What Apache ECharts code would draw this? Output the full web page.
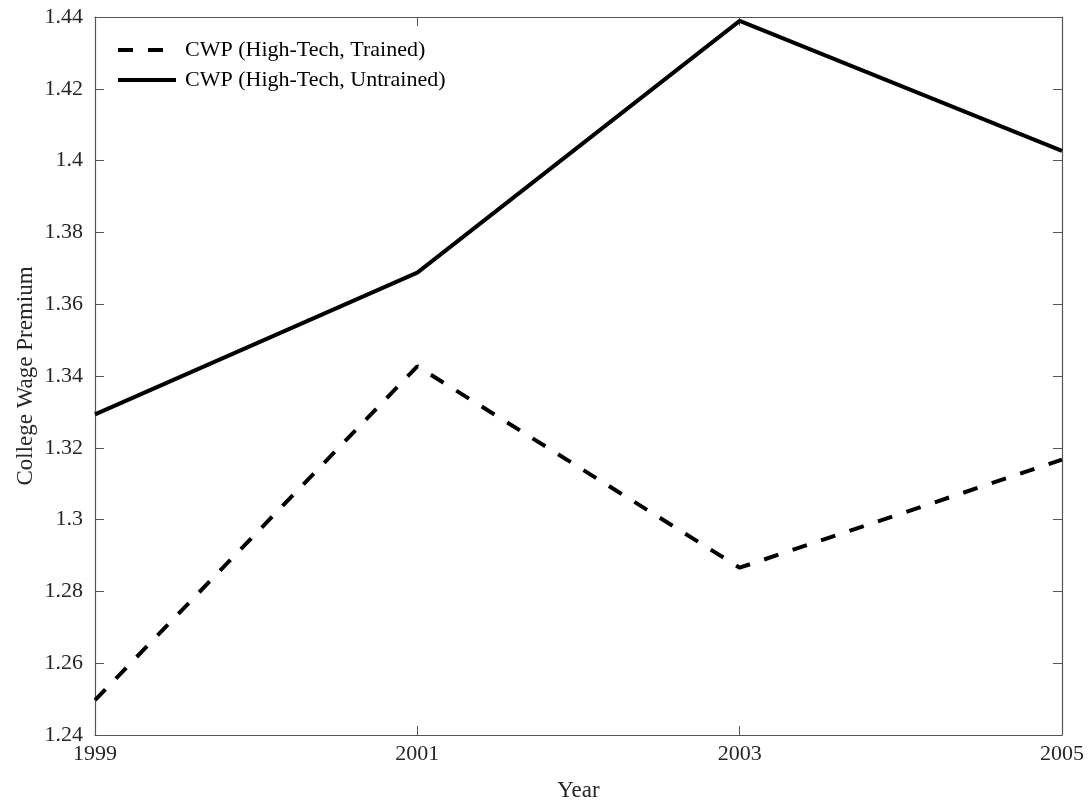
<!DOCTYPE html>
<html><head><meta charset="utf-8">
<script src="https://cdn.jsdelivr.net/npm/echarts@6/dist/echarts.min.js"></script>
<style>html,body{margin:0;padding:0;background:#fff}#c{width:1091px;height:808px}</style>
</head><body><div id="c"></div>
<script>
var years = ['1999', '2001', '2003', '2005'];
var trained = [1.2497, 1.3427, 1.2866, 1.3167];
var untrained = [1.3293, 1.3688, 1.4389, 1.4027];
var seriesNames = ['CWP (High-Tech, Trained)', 'CWP (High-Tech, Untrained)'];

var font = 'Liberation Serif';
var axisCol = '#262626';
var chart = echarts.init(document.getElementById('c'));
function yAx(pos, show) {
  return {
    type: 'value', position: pos, min: 1.24, max: 1.44, interval: 0.02,
    axisLine: {show: true, onZero: false, lineStyle: {color: '#555', width: 1.2}},
    axisTick: {show: true, inside: true, length: 9, lineStyle: {color: '#555'}},
    splitLine: {show: false},
    axisLabel: {show: show, fontFamily: font, fontSize: 22, color: axisCol, margin: 12,
      formatter: function (v) { return String(+v.toFixed(2)); }},
    name: show ? 'College Wage Premium' : '', nameLocation: 'middle', nameGap: 58,
    nameMoveOverlap: false,
    nameTextStyle: {fontFamily: font, fontSize: 23, color: axisCol}
  };
}
function xAx(pos, show) {
  return {
    type: 'category', position: pos, data: years, boundaryGap: false,
    axisLine: {show: true, onZero: false, lineStyle: {color: '#555', width: 1.2}},
    axisTick: {show: true, inside: true, length: 9, alignWithLabel: true, lineStyle: {color: '#555'}},
    splitLine: {show: false},
    axisLabel: {show: show, fontFamily: font, fontSize: 22, color: axisCol, margin: 8},
    name: show ? 'Year' : '', nameLocation: 'middle', nameGap: 44,
    nameMoveOverlap: false,
    nameTextStyle: {fontFamily: font, fontSize: 23, color: axisCol}
  };
}
chart.setOption({
  backgroundColor: '#fff',
  animation: false,
  grid: {left: 95, right: 29, top: 17, bottom: 73, containLabel: false},
  xAxis: [xAx('bottom', true), xAx('top', false)],
  yAxis: [yAx('left', true), yAx('right', false)],
  legend: {
    orient: 'vertical', left: 111, top: 34, itemWidth: 58, itemHeight: 14, itemGap: 8,
    textStyle: {fontFamily: font, fontSize: 22, color: '#000', padding: [0, 0, 0, 4]},
    itemStyle: {opacity: 0},
    lineStyle: {width: 4},
    data: seriesNames
  },
  series: [
    {name: seriesNames[0], type: 'line', data: trained, symbol: 'none',
     lineStyle: {color: '#000', width: 4, type: [15, 15]}, itemStyle: {color: '#000'}},
    {name: seriesNames[1], type: 'line', data: untrained, symbol: 'none',
     lineStyle: {color: '#000', width: 4, type: 'solid'}, itemStyle: {color: '#000'}}
  ]
});
</script></body></html>
